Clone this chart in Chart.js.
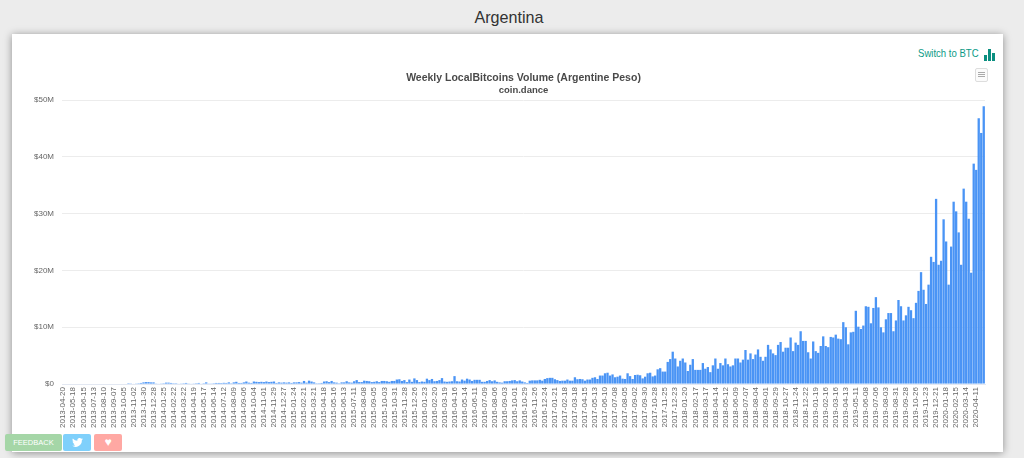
<!DOCTYPE html>
<html>
<head>
<meta charset="utf-8">
<title>Argentina</title>
<script src="https://cdn.jsdelivr.net/npm/chart.js@4"></script>
<style>
  html, body { margin: 0; height: 100%; overflow: hidden; background: #ececec; font-family: "Liberation Sans", sans-serif; }
  h1 { position: absolute; left: 0; width: 1018px; top: 8px; margin: 0; text-align: center; font-size: 17px; font-weight: normal; color: #333; transform: scaleX(.95); }
  .card { position: absolute; left: 12px; top: 34px; width: 991px; height: 418px; background: #fff; box-shadow: 0 1px 8px rgba(0,0,0,.4); }
  .switch { position: absolute; left: 918px; top: 47px; font-size: 11px; color: #0b9a86; transform: scaleX(.87); transform-origin: left; }
  .switch-icon { position: absolute; left: 984px; top: 49px; width: 12px; height: 12px; }
  .switch-icon i { position: absolute; bottom: 0; width: 3px; background: #0b8f80; }
  .menu { position: absolute; left: 975px; top: 68px; width: 11px; height: 12px; border: 1px solid #ddd; border-radius: 2px; background: #fbfbfb; }
  .menu i { position: absolute; left: 2px; width: 7px; height: 1px; background: #aaa; }
  .chart-box { position: absolute; left: 34px; top: 66px; width: 980px; height: 384px; }
  .btn { position: absolute; top: 434px; height: 17px; line-height: 17px; border-radius: 2px; color: #fff; text-align: center; font-size: 7.5px; }
</style>
</head>
<body>
<h1>Argentina</h1>
<div class="card"></div>
<div class="switch">Switch to BTC</div>
<div class="switch-icon"><i style="left:0;height:6px"></i><i style="left:4px;height:12px"></i><i style="left:8px;height:8px"></i></div>
<div class="menu"><i style="top:3px"></i><i style="top:5px"></i><i style="top:7px"></i></div>
<div class="chart-box"><canvas id="volumeChart"></canvas></div>
<div class="btn" style="left:5px;width:57px;background:#a5d6a7">FEEDBACK</div>
<div class="btn" style="left:63px;width:28px;background:#7fd0fb">
  <svg width="11" height="9" viewBox="0 0 24 20" style="margin-top:4px"><path fill="#fff" d="M24 2.4a10 10 0 0 1-2.8.8A5 5 0 0 0 23.300 .5a10 10 0 0 1-3.100 1.200A4.900 4.900 0 0 0 11.800 6.200 14 14 0 0 1 1.700 1 4.900 4.900 0 0 0 3.200 7.600 4.900 4.900 0 0 1 1 7a4.900 4.900 0 0 0 3.900 4.900 5 5 0 0 1-2.200 .1A4.900 4.900 0 0 0 7.300 15.400 10 10 0 0 1 0 17.400 14 14 0 0 0 21.600 5 10 10 0 0 0 24 2.400z"/></svg>
</div>
<div class="btn" style="left:94px;width:28px;background:#ffa8a3;font-size:12px">&#9829;</div>

<script>
// one label every fourth week, the rest of the weeks stay blank on the axis
const tickLabels = [
  "2013-04-20", "2013-05-18", "2013-06-15", "2013-07-13", "2013-08-10", "2013-09-07", "2013-10-05", "2013-11-02",
  "2013-11-30", "2013-12-28", "2014-01-25", "2014-02-22", "2014-03-22", "2014-04-19", "2014-05-17", "2014-06-14",
  "2014-07-12", "2014-08-09", "2014-09-06", "2014-10-04", "2014-11-01", "2014-11-29", "2014-12-27", "2015-01-24",
  "2015-02-21", "2015-03-21", "2015-04-18", "2015-05-16", "2015-06-13", "2015-07-11", "2015-08-08", "2015-09-05",
  "2015-10-03", "2015-10-31", "2015-11-28", "2015-12-26", "2016-01-23", "2016-02-20", "2016-03-19", "2016-04-16",
  "2016-05-14", "2016-06-11", "2016-07-09", "2016-08-06", "2016-09-03", "2016-10-01", "2016-10-29", "2016-11-26",
  "2016-12-24", "2017-01-21", "2017-02-18", "2017-03-18", "2017-04-15", "2017-05-13", "2017-06-10", "2017-07-08",
  "2017-08-05", "2017-09-02", "2017-09-30", "2017-10-28", "2017-11-25", "2017-12-23", "2018-01-20", "2018-02-17",
  "2018-03-17", "2018-04-14", "2018-05-12", "2018-06-09", "2018-07-07", "2018-08-04", "2018-09-01", "2018-09-29",
  "2018-10-27", "2018-11-24", "2018-12-22", "2019-01-19", "2019-02-16", "2019-03-16", "2019-04-13", "2019-05-11",
  "2019-06-08", "2019-07-06", "2019-08-03", "2019-08-31", "2019-09-28", "2019-10-26", "2019-11-23", "2019-12-21",
  "2020-01-18", "2020-02-15", "2020-03-14", "2020-04-11"
];

// weekly volume, millions of pesos, four weeks per row
const volumeMillions = [
  0, 0, 0, 0,  0, 0, 0, 0,  0, 0, 0, 0,  0, 0, 0, 0,  0, 0, 0, 0,  0, 0, 0, 0,
  0, 0, 0.02, 0.05,
  0.08, 0.12, 0.15, 0.2,
  0.3, 0.35, 0.35, 0.3,
  0.3, 0.12, 0.1, 0.12,
  0.15, 0.25, 0.25, 0.2,
  0.15, 0.15, 0.1, 0.12,
  0.15, 0.2, 0.12, 0.1,
  0.12, 0.15, 0.2, 0.1,
  0.15, 0.3, 0.12, 0.12,
  0.15, 0.2, 0.2, 0.18,
  0.22, 0.2, 0.3, 0.15,
  0.3, 0.4, 0.2, 0.2,
  0.3, 0.45, 0.25, 0.2,
  0.45, 0.4, 0.35, 0.4,
  0.35, 0.45, 0.35, 0.4,
  0.45, 0.2, 0.3, 0.25,
  0.3, 0.25, 0.3, 0.2,
  0.3, 0.3, 0.35, 0.25,
  0.55, 0.25, 0.6, 0.45,
  0.3, 0.15, 0.15, 0.2,
  0.45, 0.5, 0.35, 0.55,
  0.3, 0.25, 0.15, 0.3,
  0.3, 0.5, 0.3, 0.25,
  0.5, 0.7, 0.35, 0.35,
  0.6, 0.55, 0.5, 0.35,
  0.4, 0.5, 0.35, 0.55,
  0.55, 0.5, 0.4, 0.55,
  0.55, 0.8, 0.85, 0.55,
  0.7, 0.35, 0.8, 0.4,
  1.0, 0.7, 0.35, 0.45,
  0.4, 0.95, 0.7, 0.9,
  0.5, 0.55, 0.7, 1.05,
  0.45, 0.4, 0.45, 0.5,
  1.4, 0.5, 0.45, 0.8,
  0.6, 0.95, 0.8, 0.55,
  0.75, 0.75, 0.75, 0.4,
  0.4, 0.55, 0.7, 0.5,
  0.65, 0.4, 0.3, 0.25,
  0.5, 0.5, 0.55, 0.65,
  0.7, 0.5, 0.65, 0.45,
  0.3, 0.2, 0.6, 0.65,
  0.65, 0.65, 0.75, 0.6,
  0.9, 1.05, 1.1, 1.1,
  0.85, 0.7, 0.55, 0.6,
  0.6, 0.8, 0.6, 0.6,
  1.2, 0.85, 0.9, 0.85,
  0.6, 0.8, 0.8, 1.1,
  1.2, 0.9, 1.5, 1.5,
  1.9, 2.0, 1.5, 1.7,
  1.2, 1.3, 1.5, 0.95,
  0.9, 1.9, 1.4, 0.9,
  1.6, 1.65, 1.55, 1.0,
  1.3, 1.9, 2.0, 1.35,
  1.5, 2.6, 2.8, 2.2,
  2.2, 3.9, 4.4, 5.7,
  4.5, 3.1, 4.1, 4.5,
  3.8, 2.3, 3.4, 4.4,
  2.5, 2.5, 2.5, 3.7,
  2.7, 3.0, 2.1, 3.3,
  4.5, 2.7, 3.7, 3.3,
  4.5, 3.5, 3.1, 3.3,
  4.5, 4.5, 3.8, 4.3,
  6.0, 4.3, 5.4, 4.4,
  5.2, 6.1, 4.8, 4.1,
  4.8, 6.9, 6.1, 5.4,
  5.1, 6.9, 7.4, 5.7,
  6.4, 6.4, 8.2, 5.8,
  7.3, 6.9, 9.3, 7.6,
  7.6, 5.6, 4.5, 7.5,
  5.8, 5.5, 6.7, 8.4,
  6.7, 6.5, 8.3, 8.2,
  8.7, 8.0, 7.9, 10.9,
  10.0, 7.0, 9.1, 9.2,
  12.9, 10.1, 9.7, 10.3,
  13.7, 13.6, 10.7, 13.4,
  15.3, 13.5, 10.0, 9.1,
  11.4, 12.5, 12.5, 9.3,
  11.2, 14.8, 13.7, 11.2,
  12.1, 13.6, 13.0, 11.6,
  14.3, 16.4, 19.7, 16.6,
  14.1, 17.5, 22.4, 21.5,
  32.6, 21.0, 21.7, 29.0,
  25.1, 17.5, 24.2, 32.1,
  30.4, 26.7, 21.0, 34.4,
  32.1, 29.1, 19.6, 38.8,
  37.7, 46.8, 44.2, 48.9
];

const yTicks = [0, 10, 20, 30, 40, 50];

const weekLabels = volumeMillions.map((v, i) => (i % 4 === 0 && tickLabels[i / 4]) || "");

new Chart(document.getElementById("volumeChart"), {
  type: "bar",
  data: {
    labels: weekLabels,
    datasets: [{
      label: "Volume",
      data: volumeMillions,
      backgroundColor: "#4a94f5",
      borderWidth: 0,
      barPercentage: 0.92,
      categoryPercentage: 1
    }]
  },
  options: {
    responsive: true,
    maintainAspectRatio: false,
    animation: false,
    layout: { padding: { left: 0, right: 29, top: 6, bottom: 19 } },
    plugins: {
      legend: { display: false },
      tooltip: { enabled: false },
      // not full width, so both titles centre over the plot and not over the canvas
      title: {
        display: true,
        fullSize: false,
        text: "Weekly LocalBitcoins Volume (Argentine Peso)",
        color: "#4a4a4a",
        font: { family: "'Liberation Sans'", size: 10.5, weight: "bold" },
        padding: { top: 0, bottom: 0 }
      },
      subtitle: {
        display: true,
        fullSize: false,
        text: "coin.dance",
        color: "#4a4a4a",
        font: { family: "'Liberation Sans'", size: 9.5, weight: "bold" },
        padding: { top: 0, bottom: 4 }
      }
    },
    scales: {
      x: {
        grid: { display: false, drawTicks: false },
        border: { color: "#e3e8f2" },
        ticks: {
          autoSkip: false,
          minRotation: 90,
          maxRotation: 90,
          padding: 3,
          color: "#666",
          font: { family: "'Liberation Sans'", size: 8 }
        }
      },
      y: {
        min: 0,
        max: 50,
        afterFit: (scale) => { scale.width = 28; },
        afterBuildTicks: (scale) => { scale.ticks = yTicks.map((value) => ({ value })); },
        grid: { color: "#ececec", drawTicks: false },
        border: { display: false },
        ticks: {
          padding: 8,
          color: "#666",
          font: { family: "'Liberation Sans'", size: 8 },
          callback: (value) => "$" + value + (value ? "M" : "")
        }
      }
    }
  }
});
</script>
</body>
</html>
